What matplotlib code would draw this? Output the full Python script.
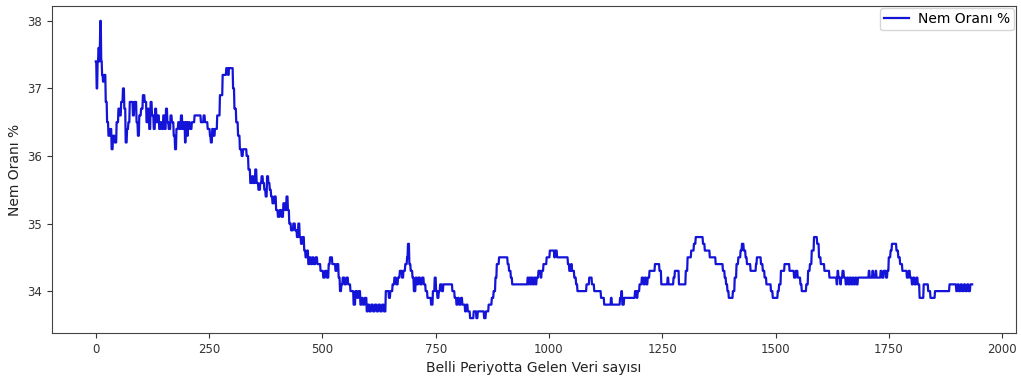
import numpy as np
import matplotlib
matplotlib.use("Agg")
import matplotlib.pyplot as plt

# Humidity readings stored as runs: each entry is (first sample index, value)
# and the value holds until the next entry begins.
n_samples = 1935
run_start = [
    0, 2, 4, 6, 8, 9, 10, 12, 14, 16, 18, 22, 25, 28, 32, 35, 38, 42, 46, 50,
    53, 56, 60, 63, 66, 69, 72, 75, 82, 85, 90, 93, 96, 100, 104, 108, 112, 115, 118, 121,
    124, 128, 131, 134, 137, 140, 143, 146, 149, 152, 155, 158, 161, 165, 168, 172, 175, 178, 182, 185,
    188, 191, 194, 197, 199, 202, 204, 208, 212, 218, 232, 238, 241, 247, 252, 254, 257, 260, 263, 268,
    274, 280, 288, 292, 294, 303, 306, 310, 314, 318, 322, 325, 333, 337, 341, 345, 348, 352, 355, 359,
    363, 366, 369, 372, 375, 378, 381, 384, 387, 390, 394, 398, 402, 406, 410, 414, 418, 421, 424, 427,
    431, 436, 440, 444, 447, 450, 453, 456, 460, 463, 466, 469, 472, 475, 478, 481, 485, 489, 496, 502,
    506, 510, 514, 517, 522, 529, 532, 536, 539, 542, 545, 549, 553, 557, 562, 569, 573, 577, 580, 584,
    587, 590, 594, 598, 601, 604, 608, 612, 616, 620, 624, 628, 632, 636, 640, 647, 650, 655, 659, 663,
    667, 671, 676, 679, 683, 687, 689, 692, 695, 699, 702, 706, 709, 712, 716, 720, 724, 728, 732, 740,
    744, 748, 751, 754, 757, 760, 764, 767, 787, 792, 796, 799, 802, 806, 809, 815, 818, 821, 826, 834,
    840, 843, 857, 861, 867, 874, 878, 882, 885, 890, 909, 912, 916, 919, 953, 955, 957, 960, 962, 965,
    968, 971, 973, 977, 982, 984, 988, 995, 1002, 1012, 1014, 1018, 1042, 1045, 1049, 1051, 1056, 1060, 1063, 1083,
    1089, 1095, 1100, 1115, 1122, 1137, 1139, 1157, 1160, 1162, 1166, 1190, 1194, 1196, 1200, 1205, 1209, 1212, 1215, 1218,
    1222, 1234, 1244, 1248, 1262, 1264, 1275, 1278, 1287, 1302, 1306, 1314, 1320, 1324, 1340, 1344, 1355, 1368, 1384, 1388,
    1391, 1394, 1397, 1406, 1410, 1414, 1418, 1423, 1426, 1430, 1434, 1437, 1445, 1457, 1459, 1468, 1472, 1476, 1480, 1490,
    1494, 1505, 1508, 1512, 1520, 1531, 1541, 1545, 1549, 1555, 1558, 1568, 1572, 1576, 1580, 1585, 1592, 1596, 1600, 1608,
    1619, 1635, 1637, 1639, 1643, 1645, 1648, 1651, 1655, 1658, 1661, 1664, 1667, 1670, 1673, 1676, 1679, 1682, 1706, 1708,
    1714, 1716, 1721, 1723, 1732, 1735, 1739, 1744, 1747, 1750, 1754, 1757, 1767, 1771, 1775, 1780, 1790, 1794, 1797, 1801,
    1804, 1807, 1811, 1814, 1818, 1827, 1837, 1842, 1852, 1884, 1899, 1902, 1905, 1909, 1912, 1916, 1919, 1923, 1926, 1930,
]
run_value = [
    37.4, 37.0, 37.4, 37.6, 37.4, 37.6, 38.0, 37.4, 37.2, 37.1, 37.2, 36.8, 36.5, 36.3, 36.4, 36.1, 36.3, 36.2, 36.5, 36.7,
    36.6, 36.8, 37.0, 36.7, 36.2, 36.4, 36.5, 36.8, 36.6, 36.8, 36.5, 36.3, 36.6, 36.7, 36.9, 36.8, 36.5, 36.7, 36.4, 36.8,
    36.6, 36.4, 36.7, 36.5, 36.6, 36.4, 36.5, 36.4, 36.6, 36.4, 36.7, 36.5, 36.4, 36.6, 36.5, 36.3, 36.1, 36.4, 36.5, 36.4,
    36.6, 36.4, 36.5, 36.2, 36.5, 36.3, 36.5, 36.4, 36.5, 36.6, 36.5, 36.6, 36.5, 36.4, 36.3, 36.2, 36.4, 36.3, 36.4, 36.6,
    36.9, 37.2, 37.3, 37.2, 37.3, 37.0, 36.7, 36.5, 36.3, 36.1, 36.0, 36.1, 36.0, 35.8, 35.6, 35.7, 35.6, 35.8, 35.6, 35.5,
    35.6, 35.7, 35.6, 35.5, 35.4, 35.7, 35.6, 35.5, 35.4, 35.3, 35.4, 35.2, 35.1, 35.2, 35.1, 35.3, 35.2, 35.4, 35.2, 35.0,
    34.9, 35.0, 34.9, 34.8, 35.0, 34.8, 34.7, 34.8, 34.6, 34.5, 34.6, 34.4, 34.5, 34.4, 34.5, 34.4, 34.5, 34.4, 34.3, 34.2,
    34.3, 34.2, 34.4, 34.5, 34.4, 34.3, 34.4, 34.2, 34.0, 34.1, 34.2, 34.1, 34.2, 34.1, 34.0, 33.8, 34.0, 33.9, 34.0, 33.8,
    33.9, 33.8, 33.9, 33.7, 33.8, 33.7, 33.8, 33.7, 33.8, 33.7, 33.8, 33.7, 33.8, 33.7, 34.0, 33.9, 34.0, 34.1, 34.2, 34.1,
    34.2, 34.3, 34.2, 34.3, 34.4, 34.5, 34.7, 34.4, 34.3, 34.2, 34.0, 34.2, 34.1, 34.2, 34.1, 34.2, 34.1, 34.0, 33.9, 33.8,
    34.0, 34.2, 34.0, 33.9, 34.0, 34.1, 34.0, 34.1, 34.0, 33.9, 33.8, 33.9, 33.8, 33.9, 33.8, 33.7, 33.8, 33.7, 33.6, 33.7,
    33.6, 33.7, 33.6, 33.7, 33.8, 33.9, 34.0, 34.2, 34.4, 34.5, 34.4, 34.3, 34.2, 34.1, 34.2, 34.1, 34.2, 34.1, 34.2, 34.1,
    34.2, 34.1, 34.2, 34.3, 34.2, 34.3, 34.4, 34.5, 34.6, 34.5, 34.6, 34.5, 34.4, 34.3, 34.4, 34.3, 34.2, 34.1, 34.0, 34.1,
    34.2, 34.1, 34.0, 33.9, 33.8, 33.9, 33.8, 33.9, 34.0, 33.8, 33.9, 34.0, 33.9, 34.0, 34.1, 34.2, 34.1, 34.2, 34.1, 34.2,
    34.3, 34.4, 34.3, 34.1, 34.2, 34.1, 34.2, 34.3, 34.1, 34.3, 34.5, 34.6, 34.7, 34.8, 34.7, 34.6, 34.5, 34.4, 34.3, 34.2,
    34.1, 34.0, 33.9, 34.0, 34.2, 34.4, 34.5, 34.6, 34.7, 34.6, 34.5, 34.4, 34.3, 34.4, 34.5, 34.4, 34.3, 34.2, 34.1, 34.0,
    33.9, 34.0, 34.1, 34.3, 34.4, 34.3, 34.2, 34.3, 34.2, 34.1, 34.0, 34.1, 34.3, 34.4, 34.6, 34.8, 34.7, 34.5, 34.4, 34.3,
    34.2, 34.1, 34.3, 34.2, 34.1, 34.2, 34.3, 34.2, 34.1, 34.2, 34.1, 34.2, 34.1, 34.2, 34.1, 34.2, 34.1, 34.2, 34.3, 34.2,
    34.3, 34.2, 34.3, 34.2, 34.3, 34.2, 34.3, 34.2, 34.3, 34.5, 34.6, 34.7, 34.6, 34.5, 34.4, 34.3, 34.2, 34.3, 34.2, 34.1,
    34.2, 34.1, 34.2, 34.1, 33.9, 34.1, 34.0, 33.9, 34.0, 34.1, 34.0, 34.1, 34.0, 34.1, 34.0, 34.1, 34.0, 34.1, 34.0, 34.1,
]

x_ticks = [0, 250, 500, 750, 1000, 1250, 1500, 1750, 2000]
y_ticks = [34, 35, 36, 37, 38]
series_label = "Nem Oranı %"
x_label = "Belli Periyotta Gelen Veri sayısı"
y_label = "Nem Oranı %"

# Expand the runs into one value per sample
run_len = np.diff(run_start + [n_samples])
humidity = np.repeat(np.array(run_value), run_len)
sample_idx = np.arange(n_samples)

fig = plt.figure(figsize=(10.21, 3.84), dpi=100)
ax = fig.add_axes([0.0509, 0.1328, 0.9442, 0.8516])

ax.plot(sample_idx, humidity, color="#1414d8", linewidth=1.6, label=series_label)

ax.set_xticks(x_ticks)
ax.set_yticks(y_ticks)
ax.tick_params(axis="both", labelsize=8.5, colors="#333333", labelcolor="#333333")
for side in ax.spines.values():
    side.set_color("#444444")

ax.set_xlabel(x_label, fontsize=10, color="#222222")
ax.set_ylabel(y_label, fontsize=10, color="#222222")

ax.legend(loc="upper right", fontsize=10, borderaxespad=0.15,
          handlelength=1.8, handletextpad=0.6, borderpad=0.3, framealpha=0.8)

fig.savefig("out.png", dpi=100)
